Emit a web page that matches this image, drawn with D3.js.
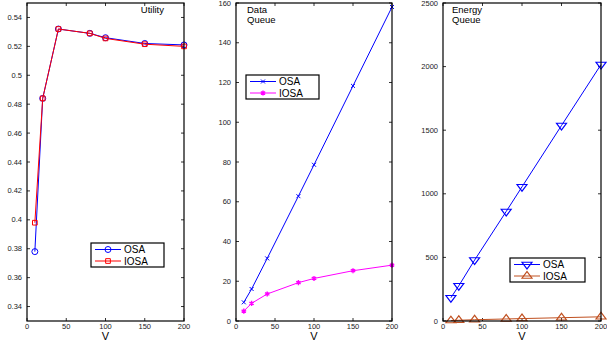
<!DOCTYPE html>
<html>
<head>
<meta charset="utf-8">
<script src="https://cdn.jsdelivr.net/npm/d3@7"></script>
<style>
body { margin: 0; background: #fff; }
text { font-family: "Liberation Sans", Arial, sans-serif; }
</style>
</head>
<body>
<script>
var width = 607;
var height = 345;

// data
var V = [10, 20, 40, 80, 100, 150, 200];
var xTicks = [0, 50, 100, 150, 200];

var utilOSA = [0.378, 0.484, 0.532, 0.529, 0.526, 0.522, 0.521];
var utilIOSA = [0.398, 0.484, 0.532, 0.529, 0.5255, 0.5215, 0.520];
var utilTicks = [0.34, 0.36, 0.38, 0.40, 0.42, 0.44, 0.46, 0.48, 0.50, 0.52, 0.54];

var dataOSA = [9.4, 16.1, 31.5, 62.8, 78.6, 118.3, 158];
var dataIOSA = [5.0, 8.9, 13.6, 19.3, 21.4, 25.3, 28.1];
var dataTicks = [0, 20, 40, 60, 80, 100, 120, 140, 160];

var energyOSA = [183, 277, 479, 861, 1055, 1537, 2016];
var energyIOSA = [3, 6, 10, 16, 19, 26, 33];
var energyTicks = [0, 500, 1000, 1500, 2000, 2500];

var seriesNames = ["OSA", "IOSA"];

var svg = d3.select("body").append("svg")
  .attr("width", width)
  .attr("height", height);

function fmtUtil(d) {
  var s = d3.format(".2f")(d);
  return s.replace(/0$/, "");
}

function marker(g, type, color, x, y) {
  var sym;
  var size = 30;
  var rot = 0;
  var sx = 1;
  if (type == "circle") { sym = d3.symbolCircle; size = 28; }
  if (type == "square") { sym = d3.symbolSquare; size = 22; }
  if (type == "x") { sym = d3.symbolTimes; size = 12; }
  if (type == "star") { sym = d3.symbolAsterisk; size = 18; }
  if (type == "down") { sym = d3.symbolTriangle; size = 26; rot = 180; sx = 1.3; }
  if (type == "up") { sym = d3.symbolTriangle; size = 26; sx = 1.3; }
  g.append("path")
    .attr("d", d3.symbol().type(sym).size(size)())
    .attr("transform", "translate(" + x + "," + y + ") rotate(" + rot + ") scale(" + sx + ",1)")
    .attr("fill", "none")
    .attr("stroke", color)
    .attr("stroke-width", type == "star" ? 1.4 : 1);
}

function panel(p) {
  var x = d3.scaleLinear().domain([0, 200]).range([p.left, p.right]);
  var y = d3.scaleLinear().domain(p.yDomain).range([321, 3]);
  var g = svg.append("g");

  // ticks on all four sides, pointing inward
  var tl = 3;
  xTicks.forEach(function(t) {
    g.append("line").attr("x1", x(t)).attr("x2", x(t)).attr("y1", 321).attr("y2", 321 - tl).attr("stroke", "#333");
    g.append("line").attr("x1", x(t)).attr("x2", x(t)).attr("y1", 3).attr("y2", 3 + tl).attr("stroke", "#333");
    g.append("text").attr("x", x(t)).attr("y", 329).attr("text-anchor", "middle")
      .attr("font-size", "7.5px").attr("fill", "#222").text(t);
  });
  p.yTicks.forEach(function(t) {
    g.append("line").attr("x1", p.left).attr("x2", p.left + tl).attr("y1", y(t)).attr("y2", y(t)).attr("stroke", "#333");
    g.append("line").attr("x1", p.right).attr("x2", p.right - tl).attr("y1", y(t)).attr("y2", y(t)).attr("stroke", "#333");
    g.append("text").attr("x", p.left - 5).attr("y", y(t) + 2.5).attr("text-anchor", "end")
      .attr("font-size", "7.5px").attr("fill", "#222").text(p.fmt(t));
  });

  g.append("text").attr("x", (p.left + p.right) / 2).attr("y", 340).attr("text-anchor", "middle")
    .attr("font-size", "11px").text("V");

  var line = d3.line().x(function(d, i) { return x(V[i]); }).y(function(d) { return y(d); });
  p.series.forEach(function(s) {
    g.append("path").datum(s.values).attr("d", line)
      .attr("fill", "none").attr("stroke", s.color).attr("stroke-width", 1);
    s.values.forEach(function(v, i) { marker(g, s.marker, s.color, x(V[i]), y(v)); });
  });

  // box
  g.append("rect").attr("x", p.left).attr("y", 3).attr("width", p.right - p.left).attr("height", 318)
    .attr("fill", "none").attr("stroke", "#000").attr("stroke-width", 1.2);

  // title
  p.title.forEach(function(t, i) {
    g.append("text").attr("x", p.titleX).attr("y", 13 + i * 10)
      .attr("text-anchor", p.titleAnchor).attr("font-size", "9.5px").text(t);
  });

  // legend
  var L = p.legend;
  g.append("rect").attr("x", L[0]).attr("y", L[1]).attr("width", L[2]).attr("height", 24)
    .attr("fill", "#fff").attr("stroke", "#000").attr("stroke-width", 1.2);
  p.series.forEach(function(s, i) {
    var ly = L[1] + 6.5 + i * 11.5;
    g.append("line").attr("x1", L[0] + 4).attr("x2", L[0] + 30).attr("y1", ly).attr("y2", ly)
      .attr("stroke", s.color).attr("stroke-width", 1);
    marker(g, s.marker, s.color, L[0] + 17, ly);
    g.append("text").attr("x", L[0] + 33).attr("y", ly + 3.5).attr("font-size", "10px").text(seriesNames[i]);
  });
}

panel({
  left: 27, right: 184, yDomain: [0.33, 0.55], yTicks: utilTicks, fmt: fmtUtil,
  series: [
    { values: utilOSA, color: "#0000ff", marker: "circle" },
    { values: utilIOSA, color: "#ff0000", marker: "square" }
  ],
  title: ["Utility"], titleX: 164, titleAnchor: "end",
  legend: [91, 243, 73]
});

panel({
  left: 236, right: 392, yDomain: [0, 160], yTicks: dataTicks, fmt: function(d) { return d; },
  series: [
    { values: dataOSA, color: "#0000ff", marker: "x" },
    { values: dataIOSA, color: "#ff00ff", marker: "star" }
  ],
  title: ["Data", "Queue"], titleX: 247, titleAnchor: "start",
  legend: [246, 75, 73]
});

panel({
  left: 443, right: 601, yDomain: [0, 2500], yTicks: energyTicks, fmt: function(d) { return d; },
  series: [
    { values: energyOSA, color: "#0000ff", marker: "down" },
    { values: energyIOSA, color: "#c05020", marker: "up" }
  ],
  title: ["Energy", "Queue"], titleX: 452, titleAnchor: "start",
  legend: [510, 258, 75]
});
</script>
</body>
</html>
